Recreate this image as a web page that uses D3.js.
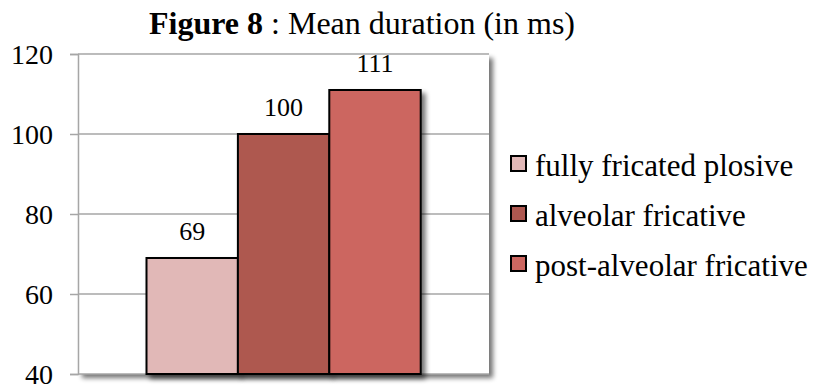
<!DOCTYPE html>
<html><head><meta charset="utf-8">
<script src="https://cdn.jsdelivr.net/npm/d3@7"></script>
<style>body{margin:0;background:#fff}svg{display:block}text{font-family:"Liberation Serif","Times New Roman",serif;fill:#000}</style>
</head><body><svg id="c" width="819" height="389"></svg>
<script>
const categories = ["fully fricated plosive","alveolar fricative","post-alveolar fricative"];
const values = [69,100,111];
const colors = ["#E1B8B7","#AE5850","#CC6660"];
const yTicks = [40,60,80,100,120];
const titleBold = "Figure 8";
const titleRest = " : Mean duration (in ms)";

const svg = d3.select("#c");
const L=78, R=489, T=54, B=374;
const y = d3.scaleLinear().domain([40,120]).range([B,T]);
const x = d3.scaleBand().domain(categories).range([146.5,420.7]).paddingInner(0);

const defs = svg.append("defs");
const f = defs.append("filter").attr("id","sh").attr("x","-20%").attr("y","-20%").attr("width","150%").attr("height","150%");
f.append("feGaussianBlur").attr("in","SourceAlpha").attr("stdDeviation",2.5).attr("result","b");
f.append("feOffset").attr("in","b").attr("dx",4).attr("dy",4).attr("result","o");
f.append("feComponentTransfer").attr("in","o").attr("result","o2").append("feFuncA").attr("type","linear").attr("slope",0.55);
const m=f.append("feMerge"); m.append("feMergeNode").attr("in","o2"); m.append("feMergeNode").attr("in","SourceGraphic");

// plot area with shadow
svg.append("rect").attr("x",L).attr("y",T).attr("width",R-L).attr("height",B-T).attr("fill","#fff").attr("filter","url(#sh)");

// gridlines
svg.append("g").selectAll("line").data(yTicks).join("line")
  .attr("x1",L).attr("x2",R).attr("y1",d=>y(d)).attr("y2",d=>y(d))
  .attr("stroke","#A6A6A6").attr("stroke-width",1.5);

// axis
const ax = svg.append("g").attr("transform",`translate(${L},0)`)
  .call(d3.axisLeft(y).tickValues(yTicks).tickSize(8).tickPadding(17));
ax.select(".domain").attr("stroke","#A6A6A6").attr("stroke-width",1.5);
ax.selectAll(".tick line").attr("stroke","#A6A6A6").attr("stroke-width",1.5);
ax.selectAll(".tick text").attr("font-size",28).attr("dy","0.35em").attr("font-family","Liberation Serif").attr("fill","#000");

// bars
svg.append("g").selectAll("rect").data(values).join("rect")
  .attr("x",(d,i)=>x(categories[i])).attr("width",x.bandwidth())
  .attr("y",d=>y(d)).attr("height",d=>B-y(d))
  .attr("fill",(d,i)=>colors[i]).attr("stroke","#000").attr("stroke-width",2)
  .attr("filter","url(#sh)");

// labels
svg.append("g").selectAll("text").data(values).join("text")
  .attr("x",(d,i)=>x(categories[i])+x.bandwidth()/2).attr("y",d=>y(d)-18)
  .attr("text-anchor","middle").attr("font-size",26).text(d=>d);

// title
const t = svg.append("text").attr("x",362).attr("y",34).attr("text-anchor","middle").attr("font-size",32);
t.append("tspan").attr("font-weight","bold").text(titleBold);
t.append("tspan").text(titleRest);

// legend
const lg = svg.append("g").selectAll("g").data(categories).join("g")
  .attr("transform",(d,i)=>`translate(511,${156+i*50})`);
lg.append("rect").attr("width",15).attr("height",15).attr("fill",(d,i)=>colors[i]).attr("stroke","#000").attr("stroke-width",2);
lg.append("text").attr("x",24).attr("y",20).attr("font-size",31).text(d=>d);
</script></body></html>
